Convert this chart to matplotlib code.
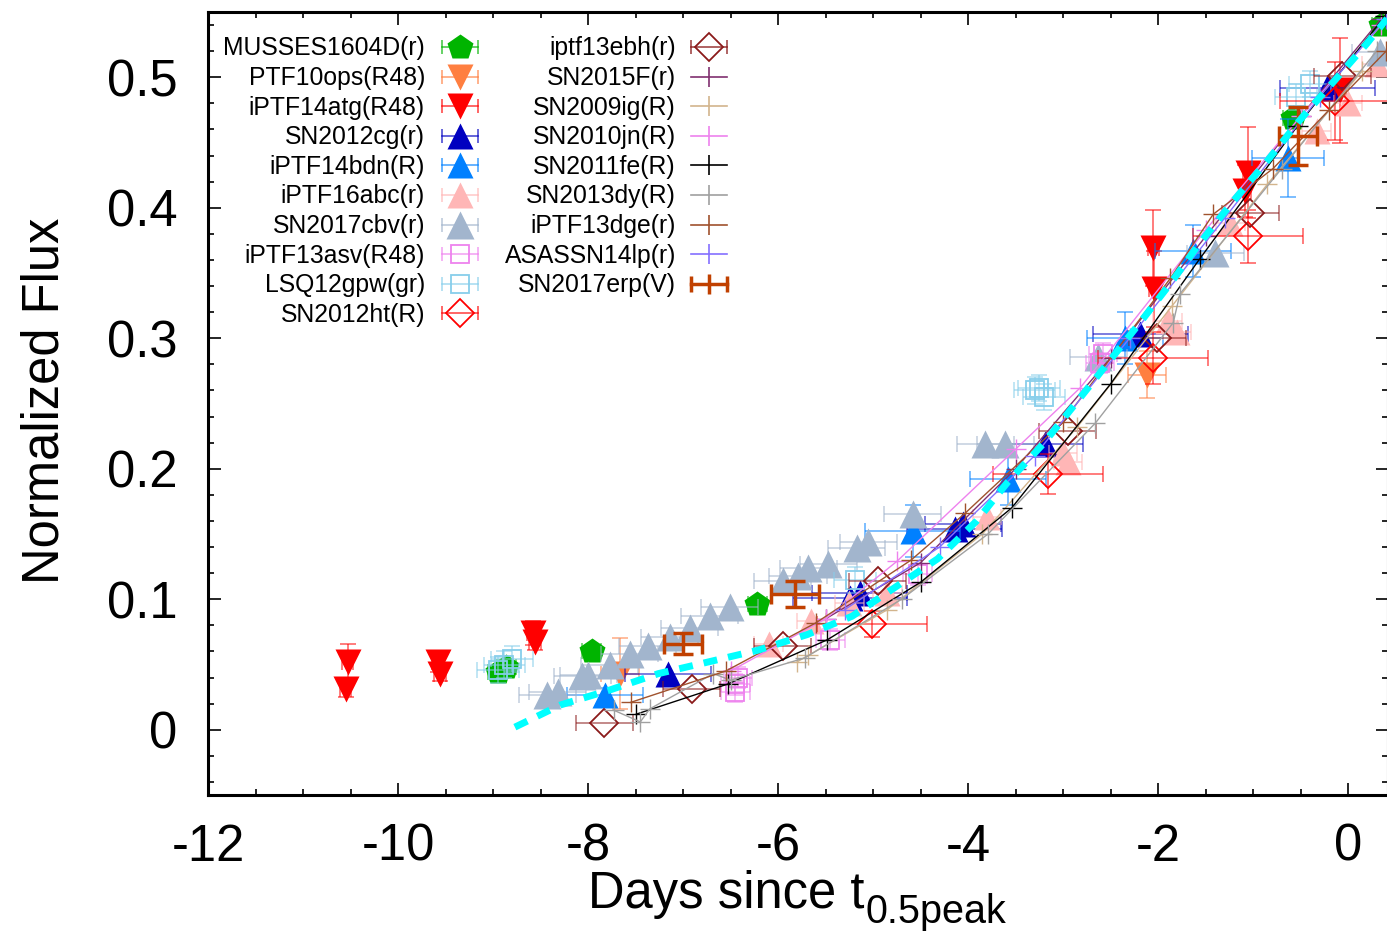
import numpy as np
import matplotlib
matplotlib.use("Agg")
import matplotlib.pyplot as plt
from matplotlib.ticker import MultipleLocator, FuncFormatter

plt.rcParams['font.family'] = ['Liberation Sans', 'DejaVu Sans']
plt.rcParams['axes.unicode_minus'] = False

# ---- data (days since t_0.5peak, normalized flux) ----
musses_x = [-8.95, -8.86, -7.96, -6.22, -0.58, 0.35]
musses_y = [0.044, 0.048, 0.060, 0.096, 0.469, 0.540]
musses_xe = [0.1, 0.1, 0.1, 0.1, 0.1, 0.1]

ptf10ops_x = [-7.66, -2.12]
ptf10ops_y = [0.043, 0.272]
ptf10ops_xe = [0.2, 0.2]
ptf10ops_ye = [0.027, 0.018]

ptf14atg_x = [-10.53, -10.55, -9.58, -9.56, -8.58, -8.56, -2.05, -2.04, -1.05, -1.08, -0.08]
ptf14atg_y = [0.052, 0.031, 0.052, 0.043, 0.074, 0.067, 0.369, 0.338, 0.427, 0.413, 0.490]
ptf14atg_ye = [0.014, 0.006, 0.008, 0.006, 0.009, 0.006, 0.029, 0.029, 0.035, 0.02, 0.04]

sn2012cg_x = [-7.16, -5.24, -5.14, -4.14, -4.05, -3.19, -2.19, -0.22]
sn2012cg_y = [0.043, 0.101, 0.105, 0.154, 0.158, 0.219, 0.303, 0.492]
sn2012cg_xe = [0.45, 0.6, 0.5, 0.5, 0.4, 0.4, 0.5, 0.5]

ptf14bdn_x = [-7.82, -4.58, -3.58, -2.35, -1.63, -0.63]
ptf14bdn_y = [0.027, 0.152, 0.192, 0.300, 0.367, 0.438]
ptf14bdn_xe = [0.4, 0.5, 0.4, 0.4, 0.4, 0.38]
ptf14bdn_ye = [0.005, 0.02, 0.02, 0.02, 0.02, 0.03]

ptf16abc_x = [-6.1, -5.65, -5.25, -4.85, -3.8, -3.0, -2.95, -1.9, -1.8, -1.24, -0.33, 0.0, 0.3]
ptf16abc_y = [0.066, 0.083, 0.097, 0.105, 0.163, 0.212, 0.205, 0.313, 0.305, 0.388, 0.459, 0.48, 0.51]

sn2017cbv_x = [-8.43, -8.32, -8.06, -8.0, -7.77, -7.56, -7.37, -7.14, -6.93, -6.72, -6.51,
               -5.95, -5.79, -5.68, -5.47, -5.17, -5.05, -4.58, -3.82, -3.61, -2.63, -1.40, 0.34]
sn2017cbv_y = [0.027, 0.029, 0.041, 0.042, 0.050, 0.058, 0.064, 0.071, 0.078, 0.087, 0.094,
               0.114, 0.118, 0.124, 0.127, 0.139, 0.144, 0.165, 0.219, 0.219, 0.286, 0.365, 0.519]

ptf13asv_x = [-6.45, -6.45, -6.42, -5.45, -4.53, -2.61, -2.58]
ptf13asv_y = [0.035, 0.029, 0.040, 0.069, 0.119, 0.281, 0.288]

lsq12gpw_x = [-8.95, -8.88, -8.8, -5.19, -3.3, -3.2, -3.25, -0.55, -0.4]
lsq12gpw_y = [0.046, 0.050, 0.054, 0.115, 0.260, 0.255, 0.262, 0.485, 0.495]

sn2012ht_x = [-5.01, -3.16, -2.05, -1.05, -0.14]
sn2012ht_y = [0.081, 0.196, 0.285, 0.378, 0.482]
sn2012ht_ye = [0.01, 0.015, 0.02, 0.02, 0.03]

ptf13ebh_x = [-7.83, -6.91, -5.95, -4.95, -2.95, -2.01, -1.03, -0.06]
ptf13ebh_y = [0.005, 0.031, 0.064, 0.114, 0.229, 0.300, 0.396, 0.501]

sn2015f_x = [-5.5, -4.5, -3.5, -2.5, -1.5, -0.5, 0.35]
sn2015f_y = [0.085, 0.128, 0.200, 0.285, 0.378, 0.470, 0.545]

sn2009ig_x = [-5.8, -5.68, -4.85, -3.85, -2.85, -1.85, -0.85, 0.15]
sn2009ig_y = [0.052, 0.057, 0.092, 0.150, 0.232, 0.325, 0.418, 0.505]

sn2010jn_x = [-6.5, -5.5, -4.75, -3.5, -2.82, -1.5, -0.5, 0.35]
sn2010jn_y = [0.045, 0.085, 0.129, 0.215, 0.262, 0.383, 0.470, 0.540]

sn2011fe_x = [-7.49, -6.53, -5.48, -4.5, -3.54, -2.5, -1.56, -0.53, 0.39]
sn2011fe_y = [0.012, 0.035, 0.069, 0.113, 0.170, 0.265, 0.361, 0.463, 0.547]

sn2013dy_x = [-7.73, -7.45, -7.35, -6.68, -6.5, -5.72, -4.7, -3.79, -2.66, -1.84, -1.77, -0.7, 0.3]
sn2013dy_y = [0.015, 0.006, 0.016, 0.043, 0.038, 0.055, 0.100, 0.150, 0.235, 0.312, 0.334, 0.430, 0.520]

ptf13dge_x = [-7.55, -6.55, -5.6, -4.6, -4.03, -3.0, -1.87, -1.42, -0.79, -0.2, 0.4]
ptf13dge_y = [0.021, 0.045, 0.082, 0.130, 0.166, 0.236, 0.346, 0.395, 0.430, 0.475, 0.520]

asassn14lp_x = [-5.3, -4.3, -3.3, -2.3, -1.3, -0.3, 0.4]
asassn14lp_y = [0.092, 0.140, 0.210, 0.300, 0.392, 0.485, 0.545]

sn2017erp_x = [-7.0, -5.82, -0.53]
sn2017erp_y = [0.066, 0.104, 0.455]
sn2017erp_xe = [0.2, 0.25, 0.2]
sn2017erp_ye = [0.008, 0.01, 0.022]

fit_x = [-8.77, -8.29, -7.79, -7.26, -6.79, -6.21, -5.69, -5.22, -4.75, -4.32, -3.91, -3.58,
         -3.21, -2.89, -2.54, -2.19, -1.87, -1.56, -1.21, -0.85, -0.51, -0.16, 0.20, 0.41]
fit_y = [0.002, 0.019, 0.030, 0.043, 0.051, 0.061, 0.073, 0.087, 0.110, 0.131, 0.160, 0.190,
         0.219, 0.248, 0.280, 0.312, 0.342, 0.373, 0.405, 0.436, 0.467, 0.496, 0.526, 0.545]

fig = plt.figure(figsize=(13.87, 9.35), dpi=100)
ax = fig.add_axes([208 / 1387, 1 - 795 / 935, 1180 / 1387, 783 / 935])


def sym(x, y, color, marker, ms, xerr=None, yerr=None, open_=False):
    if xerr is not None or yerr is not None:
        ax.errorbar(x, y, xerr=xerr, yerr=yerr, fmt='none', ecolor=color, alpha=0.6,
                    elinewidth=1.2, capsize=6, capthick=1.2)
    if open_:
        ax.plot(x, y, ls='none', marker=marker, ms=ms, mfc='none', mec=color, mew=1.3)
    else:
        ax.plot(x, y, ls='none', marker=marker, ms=ms, color=color, mec='none')


def cross(x, y, color):
    ax.plot(x, y, '-', color=color, lw=1.0, marker='+', ms=15, mew=1.0)


sym(musses_x, musses_y, '#00b400', 'p', 19, xerr=musses_xe)
sym(ptf10ops_x, ptf10ops_y, '#ff7f40', 'v', 19, xerr=ptf10ops_xe, yerr=ptf10ops_ye)
sym(ptf14atg_x, ptf14atg_y, '#ff0000', 'v', 19, xerr=0.06, yerr=ptf14atg_ye)
sym(sn2012cg_x, sn2012cg_y, '#0000c0', '^', 19, xerr=sn2012cg_xe)
sym(ptf14bdn_x, ptf14bdn_y, '#0080ff', '^', 19, xerr=ptf14bdn_xe, yerr=ptf14bdn_ye)
sym(ptf16abc_x, ptf16abc_y, '#ffb6b6', '^', 19, xerr=0.15)
sym(sn2017cbv_x, sn2017cbv_y, '#a2b5cd', '^', 20, xerr=0.3)
sym(ptf13asv_x, ptf13asv_y, '#ee82ee', 's', 13, xerr=0.15, yerr=0.008, open_=True)
sym(lsq12gpw_x, lsq12gpw_y, '#87ceeb', 's', 13, xerr=0.22, yerr=0.01, open_=True)
sym(sn2012ht_x, sn2012ht_y, '#ff0000', 'D', 14, xerr=0.58, yerr=sn2012ht_ye, open_=True)
sym(ptf13ebh_x, ptf13ebh_y, '#8b1a1a', 'D', 14, xerr=0.3, open_=True)
cross(sn2015f_x, sn2015f_y, '#803070')
cross(sn2009ig_x, sn2009ig_y, '#d2b48c')
cross(sn2010jn_x, sn2010jn_y, '#ee82ee')
cross(sn2011fe_x, sn2011fe_y, '#000000')
cross(sn2013dy_x, sn2013dy_y, '#a0a0a0')
cross(ptf13dge_x, ptf13dge_y, '#a0522d')
cross(asassn14lp_x, asassn14lp_y, '#8470ff')
ax.errorbar(sn2017erp_x, sn2017erp_y, xerr=sn2017erp_xe, yerr=sn2017erp_ye, fmt='none',
            ecolor='#c04000', elinewidth=2.5, capsize=7, capthick=2.5)
ax.plot(fit_x, fit_y, color='#00ffff', lw=5, dashes=(2.0, 1.6))

# ---- axes ----
ax.set_xlim(-12, 0.42)
ax.set_ylim(-0.05, 0.55)
ax.xaxis.set_major_locator(MultipleLocator(2))
ax.xaxis.set_minor_locator(MultipleLocator(0.5))
ax.yaxis.set_major_locator(MultipleLocator(0.1))
ax.yaxis.set_minor_locator(MultipleLocator(0.02))
ax.xaxis.set_major_formatter(FuncFormatter(lambda v, p: '%d' % round(v)))
ax.yaxis.set_major_formatter(FuncFormatter(lambda v, p: '0' if abs(v) < 1e-9 else '%.1f' % v))
ax.set_yticks([0, 0.1, 0.2, 0.3, 0.4, 0.5])
ax.tick_params(which='both', direction='in', top=True, right=True, width=1.2, labelsize=36.5)
ax.tick_params(which='major', length=9)
ax.tick_params(which='minor', length=4.5)
ax.tick_params(axis='x', pad=20)
ax.tick_params(axis='y', pad=22)
for s in ax.spines.values():
    s.set_linewidth(2.2)

fig.text(45 / 1387, 1 - 401 / 935, 'Normalized Flux', rotation=90, ha='center', va='center', fontsize=36.5)

# x label with gnuplot-like subscript
xl = fig.text(588 / 1387, 1 - 908 / 935, 'Days since t', ha='left', va='baseline', fontsize=36.5)
fig.canvas.draw()
bb = xl.get_window_extent(fig.canvas.get_renderer())
fig.text((bb.x1 + 1) / 1387, 1 - 923 / 935, '0.5peak', ha='left', va='baseline', fontsize=28.5)


# ---- legend, gnuplot style (label right-aligned, sample on the right) ----
def axf(px, py):
    return (px - 208) / 1180, (795 - py) / 783


col1 = ['MUSSES1604D(r)', 'PTF10ops(R48)', 'iPTF14atg(R48)', 'SN2012cg(r)', 'iPTF14bdn(R)',
        'iPTF16abc(r)', 'SN2017cbv(r)', 'iPTF13asv(R48)', 'LSQ12gpw(gr)', 'SN2012ht(R)']
col1_sty = [('#00b400', 'p', 19, False), ('#ff7f40', 'v', 19, False), ('#ff0000', 'v', 19, False),
            ('#0000c0', '^', 19, False), ('#0080ff', '^', 19, False), ('#ffb6b6', '^', 19, False),
            ('#a2b5cd', '^', 20, False), ('#ee82ee', 's', 13, True), ('#87ceeb', 's', 13, True),
            ('#ff0000', 'D', 14, True)]
col2 = ['iptf13ebh(r)', 'SN2015F(r)', 'SN2009ig(R)', 'SN2010jn(R)', 'SN2011fe(R)', 'SN2013dy(R)',
        'iPTF13dge(r)', 'ASASSN14lp(r)', 'SN2017erp(V)']
col2_col = ['#8b1a1a', '#803070', '#d2b48c', '#ee82ee', '#000000', '#a0a0a0', '#a0522d', '#8470ff', '#c04000']

kw = dict(transform=ax.transAxes, clip_on=False)
for i, lab in enumerate(col1):
    yc = 47 + 29.6 * i
    tx, ty = axf(425, 55.5 + 29.6 * i)
    ax.text(tx, ty, lab, ha='right', va='baseline', fontsize=17.8, transform=ax.transAxes)
    c, m, ms, op = col1_sty[i]
    x0, y0 = axf(442, yc)
    x1, _ = axf(478, yc)
    xm, _ = axf(460, yc)
    ax.plot([x0, x1], [y0, y0], color=c, lw=1.2, alpha=0.7, marker='|', ms=10, mew=1.2, **kw)
    if op:
        ax.plot([xm], [y0], marker=m, ms=ms, mfc='none', mec=c, mew=1.3, ls='none', **kw)
    else:
        ax.plot([xm], [y0], marker=m, ms=ms, color=c, mec='none', ls='none', **kw)

for i, lab in enumerate(col2):
    yc = 47 + 29.6 * i
    tx, ty = axf(676, 55.5 + 29.6 * i)
    ax.text(tx, ty, lab, ha='right', va='baseline', fontsize=17.8, transform=ax.transAxes)
    c = col2_col[i]
    x0, y0 = axf(691, yc)
    x1, _ = axf(727, yc)
    xm, _ = axf(709, yc)
    if i == 0:
        ax.plot([x0, x1], [y0, y0], color=c, lw=1.2, alpha=0.8, marker='|', ms=10, mew=1.2, **kw)
        ax.plot([xm], [y0], marker='D', ms=14, mfc='none', mec=c, mew=1.3, ls='none', **kw)
    elif i == len(col2) - 1:
        ax.plot([x0, x1], [y0, y0], color=c, lw=2.5, marker='|', ms=12, mew=2.5, **kw)
        ax.plot([xm], [y0], marker='|', ms=14, mew=2.5, color=c, ls='none', **kw)
    else:
        ax.plot([x0, x1], [y0, y0], color=c, lw=1.2, **kw)
        ax.plot([xm], [y0], marker='|', ms=14, mew=1.2, color=c, ls='none', **kw)

fig.savefig('out.png', dpi=100)
